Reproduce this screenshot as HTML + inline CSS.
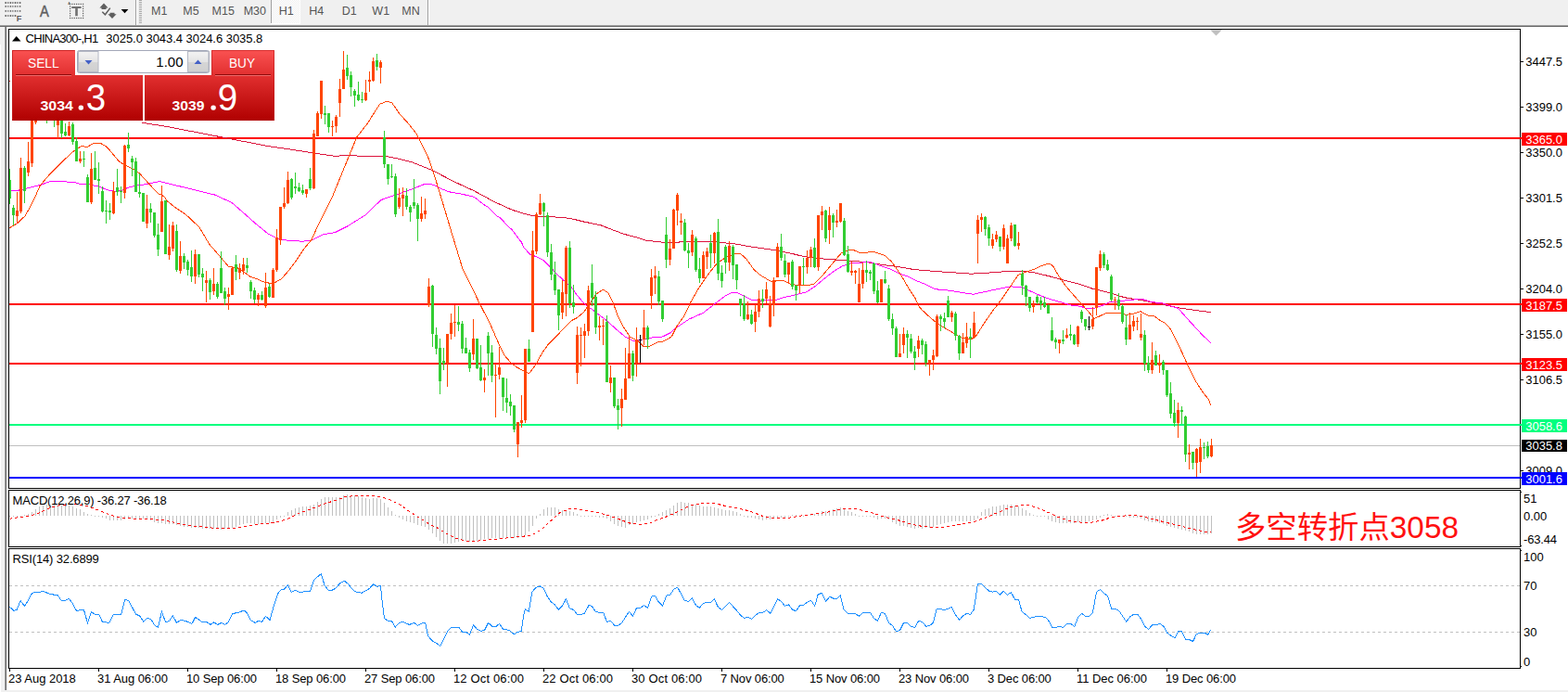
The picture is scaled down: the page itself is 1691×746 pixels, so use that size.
<!DOCTYPE html>
<html><head><meta charset="utf-8"><title>CHINA300-,H1</title>
<style>
html,body{margin:0;padding:0;background:#fff;}
body{width:1691px;height:746px;overflow:hidden;position:relative;font-family:"Liberation Sans",sans-serif;}
#tb{position:absolute;left:0;top:0;width:1691px;height:27px;background:#f0f0f0;}
svg{position:absolute;left:0;top:0;}
text{font-family:"Liberation Sans",sans-serif;}
.t{font-size:13px;fill:#000;}
.tb{font-size:12.5px;fill:#555;}
.w{font-size:13px;fill:#fff;}
</style></head><body>
<div id="tb"></div>
<svg width="1691" height="746" viewBox="0 0 1691 746">
<defs>
<linearGradient id="rg" x1="0" y1="54" x2="0" y2="130" gradientUnits="userSpaceOnUse">
<stop offset="0" stop-color="#fa5252"/><stop offset="0.35" stop-color="#e23030"/><stop offset="1" stop-color="#b00000"/></linearGradient>
<linearGradient id="bg" x1="0" y1="55" x2="0" y2="78" gradientUnits="userSpaceOnUse">
<stop offset="0" stop-color="#f4f4f4"/><stop offset="0.5" stop-color="#e4e4e4"/><stop offset="0.5" stop-color="#d6d6d6"/><stop offset="1" stop-color="#cfcfcf"/></linearGradient>
<clipPath id="cm"><rect x="10" y="32" width="1631" height="494"/></clipPath>
<clipPath id="c2"><rect x="10" y="529" width="1629" height="60"/></clipPath>
<clipPath id="c3"><rect x="10" y="592" width="1629" height="128"/></clipPath>
</defs>
<g shape-rendering="crispEdges">
<!-- window frame -->
<rect x="0" y="27" width="1691" height="1" fill="#a0a0a0"/>
<rect x="0" y="28" width="1691" height="1" fill="#696969"/>
<rect x="0" y="29" width="5" height="717" fill="#f0f0f0"/><rect x="0" y="48" width="1" height="698" fill="#fff"/><rect x="10" y="87" width="1" height="1" fill="#ff0000"/>
<rect x="5" y="29" width="1" height="716" fill="#a0a0a0"/>
<rect x="6" y="29" width="1" height="716" fill="#696969"/>
<rect x="5" y="744" width="1686" height="2" fill="#f0f0f0"/>
<!-- chart frames -->
<rect x="9.5" y="31.5" width="1630" height="495" fill="none" stroke="#000"/>
<rect x="9.5" y="528.5" width="1630" height="61" fill="none" stroke="#000"/>
<rect x="9.5" y="591.5" width="1630" height="129" fill="none" stroke="#000"/>
<!-- shift marker -->
<path d="M1305 32h13l-6.5 6.5z" fill="#c0c0c0" shape-rendering="auto"/>
<!-- main chart -->
<g clip-path="url(#cm)">
<rect x="10" y="480" width="1629" height="1" fill="#c0c0c0"/>
<rect x="10" y="148" width="1631" height="2" fill="#ff0000"/>
<rect x="10" y="327" width="1631" height="2" fill="#ff0000"/>
<rect x="10" y="391" width="1631" height="2" fill="#ff0000"/>
<rect x="10" y="457" width="1631" height="2" fill="#00ff7f"/>
<rect x="10" y="514" width="1631" height="2" fill="#0000ff"/>
<polyline fill="none" stroke="#dc143c" stroke-width="1" points="152.8,132.2 177.9,136.1 290.0,157.7 314.9,161.3 338.2,165.0 361.5,168.3 376.4,167.4 393.0,168.6 416.3,168.6 427.9,170.7 444.5,174.9 466.1,183.5 489.4,195.7 511.0,205.6 532.6,217.3 552.5,226.4 570.0,231.7 576.3,232.9 591.2,233.6 607.9,234.5 616.2,235.7 629.5,239.0 647.7,242.7 659.4,247.3 672.7,252.3 686.0,255.7 695.9,259.0 712.5,261.0 730.0,261.5 736.6,260.2 769.9,260.7 791.5,262.8 813.1,266.5 836.3,269.8 852.9,273.1 866.2,276.4 886.2,278.9 902.8,280.1 919.4,281.4 936.0,282.8 952.6,285.6 969.3,287.7 985.9,290.6 1000.0,291.7 1006.6,292.3 1023.2,293.5 1046.5,295.1 1056.5,294.8 1073.1,293.5 1089.7,292.3 1103.0,292.3 1116.3,294.0 1132.9,298.1 1147.9,302.3 1164.5,306.4 1177.8,311.1 1180.0,311.3 1196.6,315.8 1213.2,320.8 1233.2,324.1 1253.1,328.2 1269.7,331.6 1286.3,334.1 1305.8,336.6" />
<polyline fill="none" stroke="#ff00ff" stroke-width="1" points="10.0,205.6 20.1,205.1 31.1,202.5 43.2,199.5 53.2,196.0 68.3,195.8 80.4,196.5 86.4,198.3 94.5,198.5 106.5,201.2 118.6,205.6 124.6,206.3 131.7,205.1 138.7,202.0 148.7,199.7 158.8,198.5 171.9,195.5 231.5,210.0 249.8,218.3 263.1,229.9 276.3,241.6 289.6,252.4 299.6,257.4 311.2,259.4 326.2,260.2 336.2,259.0 348.6,252.7 361.1,250.7 374.4,244.1 394.3,231.6 404.7,221.4 410.9,215.8 413.0,214.8 422.9,211.5 434.6,207.3 446.2,203.1 450.0,201.6 457.8,198.5 460.0,198.3 464.5,198.5 466.6,199.2 471.1,200.7 473.3,202.5 484.4,206.8 499.4,209.5 511.5,212.4 523.1,221.6 526.0,223.1 536.4,233.2 539.3,234.7 548.0,244.0 552.5,248.0 556.3,253.2 562.5,261.3 564.7,266.5 571.3,273.9 579.6,277.3 586.3,280.6 592.9,287.2 599.6,294.7 607.9,302.2 616.2,309.7 622.8,318.8 628.6,325.7 632.8,329.9 637.8,332.9 644.4,338.2 654.4,345.7 664.4,354.8 674.3,363.1 682.6,367.3 690.9,366.4 699.3,364.8 705.9,363.4 714.2,363.1 722.5,359.0 730.0,352.8 743.3,344.0 758.2,337.4 773.2,325.7 783.1,318.3 789.8,315.3 794.8,315.3 803.1,319.6 810.6,323.2 819.7,324.1 836.3,323.6 846.3,320.4 857.9,317.9 869.6,314.9 879.5,308.3 889.5,300.0 899.5,292.2 907.8,287.2 917.7,283.9 927.7,283.1 939.3,282.6 949.3,286.4 959.3,289.7 969.3,294.7 979.2,298.0 989.2,303.0 1000.0,307.3 1008.3,311.7 1023.2,313.1 1038.2,315.6 1049.8,317.2 1061.5,314.7 1078.1,311.1 1089.7,308.9 1101.3,309.4 1109.6,313.1 1121.3,318.4 1131.2,322.2 1142.9,325.5 1154.5,328.9 1166.1,330.5 1172.8,333.0 1180.0,332.4 1188.3,329.6 1196.6,325.8 1206.6,324.9 1218.2,323.3 1231.5,322.4 1243.1,325.8 1253.1,326.6 1263.1,329.9 1270.6,332.4 1276.4,339.0 1284.7,348.2 1296.3,360.7 1305.8,369.8" />
<polyline fill="none" stroke="#ff4500" stroke-width="1" points="10.0,245.8 14.5,243.3 18.6,240.7 27.1,232.7 33.1,222.1 38.2,211.6 43.2,200.0 53.2,188.3 68.3,173.3 78.4,163.7 88.4,157.2 94.0,158.7 100.5,154.5 108.5,154.5 113.6,157.2 118.6,162.2 128.6,174.3 133.7,177.3 143.7,182.3 150.8,187.3 161.8,199.4 170.9,209.1 174.2,210.0 177.9,212.6 180.0,216.6 190.8,225.0 199.9,230.8 214.9,244.9 225.7,263.2 236.5,275.6 246.4,287.3 256.4,288.9 263.1,293.1 269.7,298.1 278.0,301.1 286.3,304.7 294.6,305.5 302.9,301.1 309.6,293.9 319.6,280.6 327.9,268.2 336.2,258.2 342.8,243.2 349.5,229.9 358.6,211.7 384.7,148.0 396.3,133.1 404.7,119.8 409.6,112.3 417.9,109.0 422.9,111.1 431.2,123.1 439.6,132.2 449.5,144.7 453.7,153.3 461.2,168.2 467.0,184.9 472.8,203.1 477.8,219.8 482.8,236.4 487.7,253.0 491.1,264.0 499.0,290.0 508.2,308.3 516.5,325.7 528.1,348.2 539.7,374.7 544.7,383.9 551.4,391.4 558.0,396.3 564.7,399.7 570.5,402.7 577.9,393.0 584.6,380.6 591.2,371.4 599.6,363.1 607.9,354.0 616.2,345.7 622.8,342.3 629.5,336.5 636.1,327.4 642.8,317.4 650.2,311.9 656.0,315.8 661.0,325.7 666.0,339.9 672.7,353.1 679.3,363.1 687.6,367.3 694.3,373.9 700.9,373.1 709.2,368.9 715.9,367.8 724.2,363.1 730.0,351.5 738.3,339.9 744.9,325.7 753.2,311.3 763.2,296.4 773.2,283.9 783.1,277.3 791.5,273.9 798.1,273.1 804.7,278.9 813.1,290.6 819.7,296.4 828.0,301.4 833.0,303.9 839.6,302.2 846.3,303.0 852.9,306.3 861.2,307.7 869.6,307.7 877.9,306.3 886.2,298.0 894.5,288.1 902.8,278.1 907.8,272.3 916.1,269.5 921.1,269.8 927.7,272.6 934.4,272.3 941.0,271.1 947.7,273.1 954.3,275.6 960.9,281.4 965.9,288.1 972.6,298.0 979.2,309.7 987.5,322.4 990.0,328.9 994.2,334.0 1000.0,339.5 1009.9,348.0 1018.2,353.2 1028.2,359.0 1038.2,364.9 1048.2,365.2 1053.1,361.5 1061.5,348.2 1071.4,334.1 1079.7,323.3 1098.0,296.5 1106.3,293.1 1114.6,290.6 1121.3,287.3 1131.2,284.0 1135.4,286.5 1141.2,296.5 1147.9,306.4 1156.2,316.4 1166.1,327.5 1174.4,336.6 1180.0,343.5 1193.3,337.4 1208.2,337.4 1214.9,339.5 1223.2,337.9 1229.9,335.7 1238.2,340.2 1244.8,340.7 1251.5,345.7 1256.4,348.2 1261.4,353.2 1266.4,363.1 1273.1,376.4 1278.0,387.2 1283.0,398.0 1289.7,411.3 1298.0,424.0 1303.0,429.9 1305.8,436.6" />
<path fill="#32cd32" d="M10 182h1v38h-1zM9 194h3v20h-3z"/>
<path fill="#32cd32" d="M14 221h1v22h-1zM13 224h3v8h-3z"/>
<path fill="#ff4500" d="M18 207h1v33h-1zM17 227h3v6h-3z"/>
<path fill="#ff4500" d="M22 170h1v60h-1zM21 181h3v47h-3z"/>
<path fill="#32cd32" d="M26 179h1v40h-1zM25 181h3v25h-3z"/>
<path fill="#ff4500" d="M30 153h1v37h-1zM29 174h3v12h-3z"/>
<path fill="#ff4500" d="M34 55h1v125h-1zM33 60h3v116h-3z"/>
<path fill="#ff4500" d="M38 65h1v69h-1zM37 70h3v62h-3z"/>
<path fill="#ff4500" d="M42 60h1v60h-1zM41 65h3v50h-3z"/>
<path fill="#32cd32" d="M46 55h1v65h-1zM45 65h3v40h-3z"/>
<path fill="#32cd32" d="M50 75h1v58h-1zM49 85h3v30h-3z"/>
<path fill="#32cd32" d="M54 75h1v50h-1zM53 95h3v20h-3z"/>
<path fill="#32cd32" d="M58 85h1v52h-1zM57 95h3v20h-3z"/>
<path fill="#ff4500" d="M62 95h1v55h-1zM61 115h3v20h-3z"/>
<path fill="#32cd32" d="M66 105h1v44h-1zM65 115h3v29h-3z"/>
<path fill="#32cd32" d="M70 133h1v14h-1zM69 142h3v4h-3z"/>
<path fill="#ff4500" d="M74 131h1v16h-1zM73 136h3v10h-3z"/>
<path fill="#32cd32" d="M78 132h1v24h-1zM77 134h3v19h-3z"/>
<path fill="#32cd32" d="M82 148h1v26h-1zM81 152h3v22h-3z"/>
<path fill="#ff4500" d="M86 163h1v13h-1zM85 171h3v3h-3z"/>
<path fill="#32cd32" d="M90 163h1v17h-1zM89 171h3v1h-3z"/>
<path fill="#32cd32" d="M94 188h1v30h-1zM93 191h3v27h-3z"/>
<path fill="#ff4500" d="M98 165h1v55h-1zM97 182h3v36h-3z"/>
<path fill="#32cd32" d="M102 163h1v31h-1zM101 181h3v13h-3z"/>
<path fill="#32cd32" d="M106 175h1v34h-1zM105 193h3v2h-3z"/>
<path fill="#32cd32" d="M110 201h1v28h-1zM109 206h3v22h-3z"/>
<path fill="#32cd32" d="M114 216h1v25h-1zM113 227h3v1h-3z"/>
<path fill="#32cd32" d="M118 219h1v18h-1zM117 227h3v2h-3z"/>
<path fill="#ff4500" d="M122 196h1v35h-1zM121 206h3v24h-3z"/>
<path fill="#32cd32" d="M126 182h1v29h-1zM125 202h3v5h-3z"/>
<path fill="#32cd32" d="M130 201h1v18h-1zM129 206h3v1h-3z"/>
<path fill="#ff4500" d="M134 156h1v58h-1zM133 157h3v51h-3z"/>
<path fill="#32cd32" d="M138 143h1v21h-1zM137 156h3v4h-3z"/>
<path fill="#32cd32" d="M142 168h1v22h-1zM141 171h3v4h-3z"/>
<path fill="#32cd32" d="M146 170h1v37h-1zM145 174h3v33h-3z"/>
<path fill="#32cd32" d="M150 187h1v26h-1zM149 207h3v2h-3z"/>
<path fill="#32cd32" d="M154 208h1v31h-1zM153 208h3v31h-3z"/>
<path fill="#ff4500" d="M158 210h1v36h-1zM157 225h3v16h-3z"/>
<path fill="#32cd32" d="M162 219h1v21h-1zM161 225h3v4h-3z"/>
<path fill="#32cd32" d="M166 229h1v27h-1zM165 229h3v25h-3z"/>
<path fill="#32cd32" d="M170 241h1v35h-1zM169 253h3v16h-3z"/>
<path fill="#ff4500" d="M174 200h1v50h-1zM173 217h3v33h-3z"/>
<path fill="#32cd32" d="M178 216h1v58h-1zM177 216h3v58h-3z"/>
<path fill="#ff4500" d="M182 242h1v38h-1zM181 266h3v9h-3z"/>
<path fill="#ff4500" d="M186 239h1v32h-1zM185 243h3v25h-3z"/>
<path fill="#32cd32" d="M190 242h1v51h-1zM189 249h3v42h-3z"/>
<path fill="#ff4500" d="M194 260h1v35h-1zM193 276h3v16h-3z"/>
<path fill="#32cd32" d="M198 273h1v17h-1zM197 276h3v7h-3z"/>
<path fill="#32cd32" d="M202 280h1v17h-1zM201 282h3v9h-3z"/>
<path fill="#32cd32" d="M206 270h1v34h-1zM205 288h3v10h-3z"/>
<path fill="#ff4500" d="M210 269h1v37h-1zM209 274h3v24h-3z"/>
<path fill="#32cd32" d="M214 274h1v25h-1zM213 274h3v22h-3z"/>
<path fill="#32cd32" d="M218 289h1v25h-1zM217 295h3v4h-3z"/>
<path fill="#ff4500" d="M222 292h1v34h-1zM221 302h3v3h-3z"/>
<path fill="#32cd32" d="M226 300h1v23h-1zM225 302h3v13h-3z"/>
<path fill="#ff4500" d="M230 289h1v29h-1zM229 306h3v8h-3z"/>
<path fill="#32cd32" d="M234 304h1v18h-1zM233 306h3v14h-3z"/>
<path fill="#32cd32" d="M238 271h1v45h-1zM237 289h3v27h-3z"/>
<path fill="#32cd32" d="M242 310h1v19h-1zM241 314h3v8h-3z"/>
<path fill="#ff4500" d="M246 310h1v24h-1zM245 317h3v3h-3z"/>
<path fill="#ff4500" d="M250 287h1v31h-1zM249 289h3v29h-3z"/>
<path fill="#32cd32" d="M254 275h1v27h-1zM253 285h3v8h-3z"/>
<path fill="#ff4500" d="M258 284h1v17h-1zM257 289h3v5h-3z"/>
<path fill="#ff4500" d="M262 278h1v18h-1zM261 285h3v7h-3z"/>
<path fill="#32cd32" d="M266 278h1v16h-1zM265 286h3v3h-3z"/>
<path fill="#32cd32" d="M270 302h1v20h-1zM269 304h3v10h-3z"/>
<path fill="#32cd32" d="M274 310h1v17h-1zM273 313h3v10h-3z"/>
<path fill="#ff4500" d="M278 316h1v14h-1zM277 318h3v5h-3z"/>
<path fill="#32cd32" d="M282 314h1v10h-1zM281 318h3v5h-3z"/>
<path fill="#ff4500" d="M286 294h1v38h-1zM285 310h3v20h-3z"/>
<path fill="#32cd32" d="M290 306h1v15h-1zM289 309h3v11h-3z"/>
<path fill="#ff4500" d="M294 289h1v32h-1zM293 291h3v30h-3z"/>
<path fill="#ff4500" d="M298 247h1v46h-1zM297 256h3v35h-3z"/>
<path fill="#ff4500" d="M302 223h1v41h-1zM301 223h3v36h-3z"/>
<path fill="#ff4500" d="M306 202h1v23h-1zM305 219h3v4h-3z"/>
<path fill="#ff4500" d="M310 185h1v35h-1zM309 194h3v25h-3z"/>
<path fill="#32cd32" d="M314 192h1v23h-1zM313 193h3v20h-3z"/>
<path fill="#32cd32" d="M318 186h1v23h-1zM317 201h3v2h-3z"/>
<path fill="#32cd32" d="M322 197h1v10h-1zM321 202h3v4h-3z"/>
<path fill="#32cd32" d="M326 199h1v11h-1zM325 205h3v3h-3z"/>
<path fill="#ff4500" d="M330 204h1v9h-1zM329 204h3v5h-3z"/>
<path fill="#32cd32" d="M334 181h1v24h-1zM333 193h3v10h-3z"/>
<path fill="#ff4500" d="M338 140h1v64h-1zM337 144h3v59h-3z"/>
<path fill="#ff4500" d="M342 120h1v27h-1zM341 122h3v25h-3z"/>
<path fill="#ff4500" d="M346 87h1v41h-1zM345 87h3v36h-3z"/>
<path fill="#32cd32" d="M350 114h1v20h-1zM349 122h3v2h-3z"/>
<path fill="#32cd32" d="M354 122h1v21h-1zM353 122h3v15h-3z"/>
<path fill="#ff4500" d="M358 130h1v17h-1zM357 136h3v1h-3z"/>
<path fill="#ff4500" d="M362 124h1v19h-1zM361 126h3v10h-3z"/>
<path fill="#ff4500" d="M366 85h1v41h-1zM365 96h3v15h-3z"/>
<path fill="#ff4500" d="M370 55h1v41h-1zM369 75h3v21h-3z"/>
<path fill="#32cd32" d="M374 59h1v27h-1zM373 73h3v9h-3z"/>
<path fill="#32cd32" d="M378 77h1v27h-1zM377 81h3v13h-3z"/>
<path fill="#32cd32" d="M382 96h1v19h-1zM381 98h3v5h-3z"/>
<path fill="#32cd32" d="M386 88h1v21h-1zM385 102h3v6h-3z"/>
<path fill="#32cd32" d="M390 99h1v12h-1zM389 107h3v1h-3z"/>
<path fill="#ff4500" d="M394 86h1v23h-1zM393 100h3v8h-3z"/>
<path fill="#ff4500" d="M398 77h1v22h-1zM397 86h3v2h-3z"/>
<path fill="#ff4500" d="M402 62h1v26h-1zM401 66h3v21h-3z"/>
<path fill="#32cd32" d="M406 58h1v18h-1zM405 65h3v7h-3z"/>
<path fill="#ff4500" d="M410 65h1v25h-1zM409 67h3v6h-3z"/>
<path fill="#32cd32" d="M414 141h1v40h-1zM413 148h3v29h-3z"/>
<path fill="#32cd32" d="M418 177h1v22h-1zM417 177h3v16h-3z"/>
<path fill="#32cd32" d="M422 177h1v15h-1zM421 190h3v1h-3z"/>
<path fill="#32cd32" d="M426 187h1v47h-1zM425 190h3v41h-3z"/>
<path fill="#ff4500" d="M430 203h1v22h-1zM429 213h3v10h-3z"/>
<path fill="#ff4500" d="M434 202h1v31h-1zM433 210h3v4h-3z"/>
<path fill="#32cd32" d="M438 203h1v23h-1zM437 211h3v12h-3z"/>
<path fill="#32cd32" d="M442 221h1v18h-1zM441 223h3v6h-3z"/>
<path fill="#32cd32" d="M446 193h1v32h-1zM445 218h3v4h-3z"/>
<path fill="#32cd32" d="M450 219h1v41h-1zM449 221h3v15h-3z"/>
<path fill="#ff4500" d="M454 212h1v27h-1zM453 230h3v6h-3z"/>
<path fill="#ff4500" d="M458 214h1v22h-1zM457 227h3v4h-3z"/>
<path fill="#ff4500" d="M462 300h1v31h-1zM461 309h3v20h-3z"/>
<path fill="#32cd32" d="M466 307h1v67h-1zM465 308h3v52h-3z"/>
<path fill="#32cd32" d="M470 353h1v29h-1zM469 361h3v15h-3z"/>
<path fill="#32cd32" d="M474 365h1v60h-1zM473 375h3v36h-3z"/>
<path fill="#32cd32" d="M478 375h1v24h-1zM477 389h3v3h-3z"/>
<path fill="#ff4500" d="M482 360h1v57h-1zM481 360h3v31h-3z"/>
<path fill="#ff4500" d="M486 338h1v28h-1zM485 348h3v12h-3z"/>
<path fill="#ff4500" d="M490 329h1v34h-1zM489 347h3v1h-3z"/>
<path fill="#32cd32" d="M494 330h1v27h-1zM493 347h3v3h-3z"/>
<path fill="#32cd32" d="M498 346h1v35h-1zM497 349h3v27h-3z"/>
<path fill="#32cd32" d="M502 364h1v17h-1zM501 375h3v6h-3z"/>
<path fill="#32cd32" d="M506 377h1v24h-1zM505 380h3v17h-3z"/>
<path fill="#ff4500" d="M510 344h1v44h-1zM509 365h3v17h-3z"/>
<path fill="#32cd32" d="M514 365h1v33h-1zM513 365h3v32h-3z"/>
<path fill="#32cd32" d="M518 372h1v39h-1zM517 396h3v14h-3z"/>
<path fill="#ff4500" d="M522 398h1v25h-1zM521 407h3v3h-3z"/>
<path fill="#32cd32" d="M526 358h1v47h-1zM525 362h3v19h-3z"/>
<path fill="#32cd32" d="M530 372h1v40h-1zM529 380h3v25h-3z"/>
<path fill="#ff4500" d="M534 392h1v58h-1zM533 404h3v1h-3z"/>
<path fill="#ff4500" d="M538 374h1v35h-1zM537 396h3v8h-3z"/>
<path fill="#32cd32" d="M542 407h1v36h-1zM541 407h3v21h-3z"/>
<path fill="#32cd32" d="M546 408h1v37h-1zM545 429h3v5h-3z"/>
<path fill="#32cd32" d="M550 425h1v23h-1zM549 433h3v5h-3z"/>
<path fill="#32cd32" d="M554 437h1v29h-1zM553 437h3v26h-3z"/>
<path fill="#ff4500" d="M558 455h1v38h-1zM557 455h3v24h-3z"/>
<path fill="#ff4500" d="M562 426h1v35h-1zM561 453h3v3h-3z"/>
<path fill="#ff4500" d="M566 376h1v80h-1zM565 376h3v77h-3z"/>
<path fill="#32cd32" d="M570 366h1v24h-1zM569 376h3v14h-3z"/>
<path fill="#ff4500" d="M574 249h1v109h-1zM573 270h3v88h-3z"/>
<path fill="#ff4500" d="M578 229h1v45h-1zM577 231h3v40h-3z"/>
<path fill="#ff4500" d="M582 209h1v23h-1zM581 219h3v12h-3z"/>
<path fill="#32cd32" d="M586 218h1v26h-1zM585 219h3v9h-3z"/>
<path fill="#32cd32" d="M590 229h1v48h-1zM589 232h3v40h-3z"/>
<path fill="#32cd32" d="M594 263h1v39h-1zM593 272h3v24h-3z"/>
<path fill="#32cd32" d="M598 282h1v36h-1zM597 296h3v17h-3z"/>
<path fill="#32cd32" d="M602 312h1v44h-1zM601 312h3v28h-3z"/>
<path fill="#ff4500" d="M606 302h1v42h-1zM605 315h3v22h-3z"/>
<path fill="#ff4500" d="M610 265h1v76h-1zM609 267h3v50h-3z"/>
<path fill="#32cd32" d="M614 260h1v72h-1zM613 267h3v60h-3z"/>
<path fill="#32cd32" d="M618 307h1v31h-1zM617 326h3v5h-3z"/>
<path fill="#ff4500" d="M622 352h1v62h-1zM621 361h3v41h-3z"/>
<path fill="#ff4500" d="M626 353h1v42h-1zM625 361h3v1h-3z"/>
<path fill="#ff4500" d="M630 349h1v37h-1zM629 357h3v5h-3z"/>
<path fill="#ff4500" d="M634 308h1v54h-1zM633 313h3v44h-3z"/>
<path fill="#32cd32" d="M638 285h1v45h-1zM637 305h3v16h-3z"/>
<path fill="#32cd32" d="M642 314h1v46h-1zM641 320h3v33h-3z"/>
<path fill="#ff4500" d="M646 341h1v26h-1zM645 351h3v2h-3z"/>
<path fill="#ff4500" d="M650 344h1v28h-1zM649 351h3v1h-3z"/>
<path fill="#32cd32" d="M654 340h1v72h-1zM653 347h3v65h-3z"/>
<path fill="#ff4500" d="M658 394h1v29h-1zM657 407h3v6h-3z"/>
<path fill="#32cd32" d="M662 407h1v33h-1zM661 407h3v31h-3z"/>
<path fill="#32cd32" d="M666 430h1v33h-1zM665 437h3v5h-3z"/>
<path fill="#ff4500" d="M670 419h1v41h-1zM669 430h3v10h-3z"/>
<path fill="#ff4500" d="M674 375h1v56h-1zM673 408h3v23h-3z"/>
<path fill="#ff4500" d="M678 362h1v46h-1zM677 381h3v27h-3z"/>
<path fill="#32cd32" d="M682 378h1v33h-1zM681 381h3v24h-3z"/>
<path fill="#ff4500" d="M686 353h1v53h-1zM685 366h3v25h-3z"/>
<path fill="#000" d="M690 361h1v30h-1zM689 366h3v1h-3z"/>
<path fill="#ff4500" d="M694 334h1v38h-1zM693 353h3v13h-3z"/>
<path fill="#32cd32" d="M698 351h1v25h-1zM697 353h3v13h-3z"/>
<path fill="#ff4500" d="M702 290h1v43h-1zM701 299h3v20h-3z"/>
<path fill="#ff4500" d="M706 287h1v30h-1zM705 297h3v3h-3z"/>
<path fill="#32cd32" d="M710 292h1v37h-1zM709 298h3v27h-3z"/>
<path fill="#32cd32" d="M714 324h1v23h-1zM713 324h3v20h-3z"/>
<path fill="#32cd32" d="M718 234h1v55h-1zM717 253h3v27h-3z"/>
<path fill="#ff4500" d="M722 258h1v28h-1zM721 268h3v12h-3z"/>
<path fill="#ff4500" d="M726 225h1v43h-1zM725 226h3v42h-3z"/>
<path fill="#ff4500" d="M730 208h1v35h-1zM729 210h3v17h-3z"/>
<path fill="#ff4500" d="M734 230h1v23h-1zM733 238h3v2h-3z"/>
<path fill="#32cd32" d="M738 236h1v35h-1zM737 240h3v30h-3z"/>
<path fill="#32cd32" d="M742 262h1v27h-1zM741 270h3v3h-3z"/>
<path fill="#ff4500" d="M746 248h1v28h-1zM745 253h3v19h-3z"/>
<path fill="#32cd32" d="M750 255h1v38h-1zM749 257h3v34h-3z"/>
<path fill="#32cd32" d="M754 278h1v27h-1zM753 290h3v10h-3z"/>
<path fill="#ff4500" d="M758 271h1v29h-1zM757 275h3v25h-3z"/>
<path fill="#ff4500" d="M762 267h1v23h-1zM761 271h3v6h-3z"/>
<path fill="#32cd32" d="M766 253h1v36h-1zM765 262h3v11h-3z"/>
<path fill="#ff4500" d="M770 250h1v34h-1zM769 251h3v22h-3z"/>
<path fill="#32cd32" d="M774 236h1v66h-1zM773 250h3v45h-3z"/>
<path fill="#32cd32" d="M778 286h1v24h-1zM777 294h3v9h-3z"/>
<path fill="#32cd32" d="M782 264h1v31h-1zM781 266h3v17h-3z"/>
<path fill="#ff4500" d="M786 260h1v32h-1zM785 265h3v18h-3z"/>
<path fill="#32cd32" d="M790 264h1v37h-1zM789 266h3v20h-3z"/>
<path fill="#32cd32" d="M794 285h1v27h-1zM793 285h3v17h-3z"/>
<path fill="#32cd32" d="M798 322h1v19h-1zM797 322h3v7h-3z"/>
<path fill="#32cd32" d="M802 318h1v28h-1zM801 327h3v17h-3z"/>
<path fill="#ff4500" d="M806 325h1v20h-1zM805 339h3v5h-3z"/>
<path fill="#32cd32" d="M810 334h1v16h-1zM809 339h3v10h-3z"/>
<path fill="#ff4500" d="M814 328h1v30h-1zM813 336h3v11h-3z"/>
<path fill="#ff4500" d="M818 313h1v29h-1zM817 322h3v14h-3z"/>
<path fill="#32cd32" d="M822 312h1v20h-1zM821 322h3v3h-3z"/>
<path fill="#ff4500" d="M826 304h1v23h-1zM825 312h3v10h-3z"/>
<path fill="#ff4500" d="M830 319h1v34h-1zM829 327h3v25h-3z"/>
<path fill="#ff4500" d="M834 299h1v42h-1zM833 302h3v27h-3z"/>
<path fill="#ff4500" d="M838 262h1v37h-1zM837 266h3v33h-3z"/>
<path fill="#32cd32" d="M842 252h1v29h-1zM841 266h3v12h-3z"/>
<path fill="#32cd32" d="M846 274h1v25h-1zM845 281h3v15h-3z"/>
<path fill="#ff4500" d="M850 283h1v22h-1zM849 283h3v13h-3z"/>
<path fill="#32cd32" d="M854 280h1v32h-1zM853 282h3v27h-3z"/>
<path fill="#32cd32" d="M858 307h1v17h-1zM857 308h3v5h-3z"/>
<path fill="#ff4500" d="M862 287h1v29h-1zM861 287h3v21h-3z"/>
<path fill="#32cd32" d="M866 278h1v29h-1zM865 287h3v1h-3z"/>
<path fill="#ff4500" d="M870 270h1v25h-1zM869 278h3v10h-3z"/>
<path fill="#ff4500" d="M874 266h1v22h-1zM873 269h3v9h-3z"/>
<path fill="#32cd32" d="M878 257h1v32h-1zM877 267h3v21h-3z"/>
<path fill="#ff4500" d="M882 232h1v60h-1zM881 232h3v56h-3z"/>
<path fill="#ff4500" d="M886 222h1v26h-1zM885 228h3v4h-3z"/>
<path fill="#32cd32" d="M890 226h1v35h-1zM889 227h3v30h-3z"/>
<path fill="#ff4500" d="M894 223h1v40h-1zM893 232h3v16h-3z"/>
<path fill="#32cd32" d="M898 230h1v26h-1zM897 232h3v8h-3z"/>
<path fill="#ff4500" d="M902 226h1v19h-1zM901 238h3v2h-3z"/>
<path fill="#ff4500" d="M906 219h1v21h-1zM905 219h3v20h-3z"/>
<path fill="#32cd32" d="M910 235h1v41h-1zM909 238h3v37h-3z"/>
<path fill="#32cd32" d="M914 265h1v29h-1zM913 274h3v19h-3z"/>
<path fill="#ff4500" d="M918 282h1v15h-1zM917 292h3v2h-3z"/>
<path fill="#ff4500" d="M922 291h1v15h-1zM921 292h3v2h-3z"/>
<path fill="#ff4500" d="M926 289h1v37h-1zM925 306h3v20h-3z"/>
<path fill="#ff4500" d="M930 283h1v28h-1zM929 291h3v15h-3z"/>
<path fill="#32cd32" d="M934 281h1v23h-1zM933 291h3v3h-3z"/>
<path fill="#32cd32" d="M938 291h1v11h-1zM937 293h3v2h-3z"/>
<path fill="#32cd32" d="M942 283h1v34h-1zM941 284h3v30h-3z"/>
<path fill="#32cd32" d="M946 303h1v24h-1zM945 313h3v13h-3z"/>
<path fill="#ff4500" d="M950 301h1v25h-1zM949 301h3v25h-3z"/>
<path fill="#32cd32" d="M954 292h1v14h-1zM953 301h3v4h-3z"/>
<path fill="#32cd32" d="M958 307h1v39h-1zM957 311h3v33h-3z"/>
<path fill="#32cd32" d="M962 338h1v23h-1zM961 344h3v10h-3z"/>
<path fill="#32cd32" d="M966 352h1v33h-1zM965 354h3v31h-3z"/>
<path fill="#ff4500" d="M970 360h1v25h-1zM969 381h3v4h-3z"/>
<path fill="#ff4500" d="M974 353h1v28h-1zM973 360h3v12h-3z"/>
<path fill="#32cd32" d="M978 356h1v30h-1zM977 360h3v4h-3z"/>
<path fill="#32cd32" d="M982 360h1v21h-1zM981 365h3v14h-3z"/>
<path fill="#32cd32" d="M986 373h1v26h-1zM985 379h3v7h-3z"/>
<path fill="#ff4500" d="M990 362h1v23h-1zM989 367h3v9h-3z"/>
<path fill="#32cd32" d="M994 365h1v17h-1zM993 367h3v5h-3z"/>
<path fill="#32cd32" d="M998 368h1v27h-1zM997 371h3v20h-3z"/>
<path fill="#ff4500" d="M1002 388h1v17h-1zM1001 388h3v4h-3z"/>
<path fill="#ff4500" d="M1006 377h1v22h-1zM1005 383h3v5h-3z"/>
<path fill="#ff4500" d="M1010 339h1v46h-1zM1009 341h3v43h-3z"/>
<path fill="#32cd32" d="M1014 339h1v18h-1zM1013 341h3v3h-3z"/>
<path fill="#32cd32" d="M1018 337h1v17h-1zM1017 343h3v4h-3z"/>
<path fill="#32cd32" d="M1022 319h1v23h-1zM1021 324h3v18h-3z"/>
<path fill="#ff4500" d="M1026 335h1v12h-1zM1025 337h3v5h-3z"/>
<path fill="#32cd32" d="M1030 336h1v31h-1zM1029 338h3v24h-3z"/>
<path fill="#32cd32" d="M1034 361h1v27h-1zM1033 362h3v19h-3z"/>
<path fill="#ff4500" d="M1038 359h1v22h-1zM1037 369h3v12h-3z"/>
<path fill="#ff4500" d="M1042 348h1v27h-1zM1041 363h3v7h-3z"/>
<path fill="#32cd32" d="M1046 354h1v32h-1zM1045 363h3v2h-3z"/>
<path fill="#ff4500" d="M1050 336h1v29h-1zM1049 348h3v16h-3z"/>
<path fill="#ff4500" d="M1054 232h1v52h-1zM1053 237h3v15h-3z"/>
<path fill="#ff4500" d="M1058 230h1v20h-1zM1057 234h3v3h-3z"/>
<path fill="#32cd32" d="M1062 233h1v21h-1zM1061 234h3v13h-3z"/>
<path fill="#32cd32" d="M1066 242h1v23h-1zM1065 245h3v12h-3z"/>
<path fill="#ff4500" d="M1070 252h1v16h-1zM1069 258h3v7h-3z"/>
<path fill="#ff4500" d="M1074 249h1v12h-1zM1073 253h3v5h-3z"/>
<path fill="#32cd32" d="M1078 255h1v16h-1zM1077 255h3v11h-3z"/>
<path fill="#ff4500" d="M1082 242h1v27h-1zM1081 246h3v20h-3z"/>
<path fill="#ff4500" d="M1086 253h1v31h-1zM1085 257h3v27h-3z"/>
<path fill="#ff4500" d="M1090 240h1v20h-1zM1089 243h3v14h-3z"/>
<path fill="#32cd32" d="M1094 242h1v24h-1zM1093 242h3v23h-3z"/>
<path fill="#ff4500" d="M1098 250h1v19h-1zM1097 262h3v3h-3z"/>
<path fill="#32cd32" d="M1102 291h1v27h-1zM1101 295h3v13h-3z"/>
<path fill="#32cd32" d="M1106 307h1v23h-1zM1105 308h3v12h-3z"/>
<path fill="#32cd32" d="M1110 320h1v16h-1zM1109 320h3v12h-3z"/>
<path fill="#ff4500" d="M1114 324h1v13h-1zM1113 328h3v3h-3z"/>
<path fill="#32cd32" d="M1118 318h1v10h-1zM1117 320h3v6h-3z"/>
<path fill="#32cd32" d="M1122 320h1v14h-1zM1121 324h3v4h-3z"/>
<path fill="#32cd32" d="M1126 320h1v12h-1zM1125 326h3v5h-3z"/>
<path fill="#32cd32" d="M1130 328h1v10h-1zM1129 329h3v9h-3z"/>
<path fill="#32cd32" d="M1134 342h1v26h-1zM1133 356h3v11h-3z"/>
<path fill="#32cd32" d="M1138 364h1v12h-1zM1137 366h3v3h-3z"/>
<path fill="#ff4500" d="M1142 366h1v15h-1zM1141 366h3v4h-3z"/>
<path fill="#32cd32" d="M1146 356h1v15h-1zM1145 366h3v2h-3z"/>
<path fill="#ff4500" d="M1150 354h1v11h-1zM1149 361h3v3h-3z"/>
<path fill="#32cd32" d="M1154 350h1v17h-1zM1153 360h3v2h-3z"/>
<path fill="#32cd32" d="M1158 360h1v12h-1zM1157 361h3v10h-3z"/>
<path fill="#ff4500" d="M1162 351h1v23h-1zM1161 352h3v19h-3z"/>
<path fill="#32cd32" d="M1166 334h1v14h-1zM1165 336h3v8h-3z"/>
<path fill="#32cd32" d="M1170 344h1v12h-1zM1169 344h3v8h-3z"/>
<path fill="#000" d="M1174 341h1v15h-1zM1173 352h3v1h-3z"/>
<path fill="#ff4500" d="M1178 331h1v24h-1zM1177 344h3v8h-3z"/>
<path fill="#ff4500" d="M1182 288h1v52h-1zM1181 288h3v44h-3z"/>
<path fill="#ff4500" d="M1186 270h1v22h-1zM1185 274h3v15h-3z"/>
<path fill="#32cd32" d="M1190 272h1v17h-1zM1189 274h3v12h-3z"/>
<path fill="#32cd32" d="M1194 280h1v12h-1zM1193 285h3v6h-3z"/>
<path fill="#32cd32" d="M1198 296h1v29h-1zM1197 298h3v25h-3z"/>
<path fill="#ff4500" d="M1202 320h1v14h-1zM1201 323h3v1h-3z"/>
<path fill="#32cd32" d="M1206 316h1v18h-1zM1205 323h3v7h-3z"/>
<path fill="#32cd32" d="M1210 328h1v21h-1zM1209 330h3v17h-3z"/>
<path fill="#32cd32" d="M1214 339h1v33h-1zM1213 353h3v13h-3z"/>
<path fill="#ff4500" d="M1218 337h1v29h-1zM1217 350h3v16h-3z"/>
<path fill="#ff4500" d="M1222 340h1v17h-1zM1221 346h3v6h-3z"/>
<path fill="#ff4500" d="M1226 342h1v14h-1zM1225 346h3v1h-3z"/>
<path fill="#ff4500" d="M1230 338h1v29h-1zM1229 360h3v4h-3z"/>
<path fill="#32cd32" d="M1234 356h1v44h-1zM1233 361h3v31h-3z"/>
<path fill="#32cd32" d="M1238 384h1v18h-1zM1237 391h3v8h-3z"/>
<path fill="#ff4500" d="M1242 369h1v34h-1zM1241 388h3v11h-3z"/>
<path fill="#32cd32" d="M1246 378h1v16h-1zM1245 383h3v11h-3z"/>
<path fill="#ff4500" d="M1250 382h1v20h-1zM1249 391h3v3h-3z"/>
<path fill="#32cd32" d="M1254 388h1v16h-1zM1253 390h3v9h-3z"/>
<path fill="#32cd32" d="M1258 399h1v29h-1zM1257 399h3v27h-3z"/>
<path fill="#32cd32" d="M1262 412h1v39h-1zM1261 424h3v22h-3z"/>
<path fill="#32cd32" d="M1266 431h1v29h-1zM1265 445h3v11h-3z"/>
<path fill="#ff4500" d="M1270 434h1v38h-1zM1269 442h3v14h-3z"/>
<path fill="#32cd32" d="M1274 438h1v19h-1zM1273 442h3v2h-3z"/>
<path fill="#32cd32" d="M1278 448h1v50h-1zM1277 449h3v41h-3z"/>
<path fill="#ff4500" d="M1282 479h1v27h-1zM1281 488h3v2h-3z"/>
<path fill="#32cd32" d="M1286 487h1v19h-1zM1285 487h3v12h-3z"/>
<path fill="#ff4500" d="M1290 483h1v31h-1zM1289 484h3v15h-3z"/>
<path fill="#ff4500" d="M1294 473h1v37h-1zM1293 482h3v16h-3z"/>
<path fill="#32cd32" d="M1298 477h1v18h-1zM1297 482h3v1h-3z"/>
<path fill="#32cd32" d="M1302 476h1v18h-1zM1301 481h3v11h-3z"/>
<path fill="#ff4500" d="M1306 473h1v20h-1zM1305 480h3v12h-3z"/>
</g>
<!-- MACD -->
<g clip-path="url(#c2)">
<path fill="#c0c0c0" d="M10 556h1v1h-1zM14 556h1v1h-1zM18 556h1v1h-1zM22 556h1v1h-1zM26 555h1v1h-1zM30 554h1v2h-1zM34 552h1v4h-1zM38 549h1v7h-1zM42 546h1v10h-1zM46 545h1v11h-1zM50 544h1v12h-1zM54 544h1v12h-1zM58 544h1v12h-1zM62 545h1v11h-1zM66 545h1v11h-1zM70 545h1v11h-1zM74 545h1v11h-1zM78 546h1v10h-1zM82 548h1v8h-1zM86 549h1v7h-1zM90 552h1v4h-1zM94 554h1v2h-1zM98 555h1v1h-1zM102 556h1v1h-1zM106 556h1v1h-1zM110 556h1v2h-1zM114 556h1v3h-1zM118 556h1v5h-1zM122 556h1v5h-1zM126 556h1v5h-1zM130 556h1v5h-1zM134 556h1v4h-1zM138 556h1v3h-1zM142 556h1v3h-1zM146 556h1v3h-1zM150 556h1v3h-1zM154 556h1v3h-1zM158 556h1v4h-1zM162 556h1v5h-1zM166 556h1v7h-1zM170 556h1v8h-1zM174 556h1v8h-1zM178 556h1v9h-1zM182 556h1v9h-1zM186 556h1v9h-1zM190 556h1v10h-1zM194 556h1v11h-1zM198 556h1v12h-1zM202 556h1v12h-1zM206 556h1v13h-1zM210 556h1v13h-1zM214 556h1v13h-1zM218 556h1v14h-1zM222 556h1v14h-1zM226 556h1v14h-1zM230 556h1v14h-1zM234 556h1v14h-1zM238 556h1v15h-1zM242 556h1v14h-1zM246 556h1v13h-1zM250 556h1v13h-1zM254 556h1v12h-1zM258 556h1v10h-1zM262 556h1v9h-1zM266 556h1v8h-1zM270 556h1v8h-1zM274 556h1v9h-1zM278 556h1v9h-1zM282 556h1v8h-1zM286 556h1v8h-1zM290 556h1v8h-1zM294 556h1v7h-1zM298 556h1v4h-1zM302 556h1v2h-1zM306 556h1v1h-1zM310 552h1v4h-1zM314 550h1v6h-1zM318 548h1v8h-1zM322 547h1v9h-1zM326 546h1v10h-1zM330 546h1v10h-1zM334 545h1v11h-1zM338 544h1v12h-1zM342 541h1v15h-1zM346 538h1v18h-1zM350 536h1v20h-1zM354 536h1v20h-1zM358 536h1v20h-1zM362 536h1v20h-1zM366 536h1v20h-1zM370 534h1v22h-1zM374 533h1v23h-1zM378 534h1v22h-1zM382 534h1v22h-1zM386 535h1v21h-1zM390 536h1v20h-1zM394 537h1v19h-1zM398 538h1v18h-1zM402 537h1v19h-1zM406 537h1v19h-1zM410 538h1v18h-1zM414 542h1v14h-1zM418 547h1v9h-1zM422 551h1v5h-1zM426 555h1v1h-1zM430 556h1v2h-1zM434 556h1v4h-1zM438 556h1v6h-1zM442 556h1v7h-1zM446 556h1v8h-1zM450 556h1v10h-1zM454 556h1v11h-1zM458 556h1v12h-1zM462 556h1v15h-1zM466 556h1v19h-1zM470 556h1v23h-1zM474 556h1v27h-1zM478 556h1v30h-1zM482 556h1v30h-1zM486 556h1v30h-1zM490 556h1v29h-1zM494 556h1v28h-1zM498 556h1v27h-1zM502 556h1v27h-1zM506 556h1v28h-1zM510 556h1v27h-1zM514 556h1v27h-1zM518 556h1v26h-1zM522 556h1v25h-1zM526 556h1v25h-1zM530 556h1v24h-1zM534 556h1v24h-1zM538 556h1v25h-1zM542 556h1v24h-1zM546 556h1v24h-1zM550 556h1v24h-1zM554 556h1v24h-1zM558 556h1v24h-1zM562 556h1v23h-1zM566 556h1v21h-1zM570 556h1v17h-1zM574 556h1v11h-1zM578 556h1v3h-1zM582 554h1v2h-1zM586 549h1v7h-1zM590 547h1v9h-1zM594 547h1v9h-1zM598 547h1v9h-1zM602 549h1v7h-1zM606 550h1v6h-1zM610 551h1v5h-1zM614 551h1v5h-1zM618 552h1v4h-1zM622 554h1v2h-1zM626 556h1v1h-1zM630 556h1v1h-1zM634 556h1v1h-1zM638 556h1v1h-1zM642 556h1v1h-1zM646 556h1v2h-1zM650 556h1v2h-1zM654 556h1v3h-1zM658 556h1v6h-1zM662 556h1v9h-1zM666 556h1v11h-1zM670 556h1v12h-1zM674 556h1v13h-1zM678 556h1v10h-1zM682 556h1v9h-1zM686 556h1v7h-1zM690 556h1v6h-1zM694 556h1v5h-1zM698 556h1v4h-1zM702 556h1v2h-1zM706 556h1v1h-1zM710 554h1v2h-1zM714 552h1v4h-1zM718 550h1v6h-1zM722 548h1v8h-1zM726 545h1v11h-1zM730 542h1v14h-1zM734 541h1v15h-1zM738 542h1v14h-1zM742 542h1v14h-1zM746 544h1v12h-1zM750 544h1v12h-1zM754 545h1v11h-1zM758 546h1v10h-1zM762 546h1v10h-1zM766 546h1v10h-1zM770 547h1v9h-1zM774 548h1v8h-1zM778 549h1v7h-1zM782 550h1v6h-1zM786 550h1v6h-1zM790 551h1v5h-1zM794 552h1v4h-1zM798 554h1v2h-1zM802 556h1v1h-1zM806 556h1v2h-1zM810 556h1v2h-1zM814 556h1v3h-1zM818 556h1v4h-1zM822 556h1v5h-1zM826 556h1v4h-1zM830 556h1v4h-1zM834 556h1v3h-1zM838 556h1v2h-1zM842 556h1v2h-1zM846 556h1v2h-1zM850 556h1v1h-1zM854 555h1v1h-1zM858 555h1v1h-1zM862 556h1v1h-1zM866 556h1v1h-1zM870 555h1v1h-1zM874 554h1v2h-1zM878 554h1v2h-1zM882 553h1v3h-1zM886 551h1v5h-1zM890 551h1v5h-1zM894 550h1v6h-1zM898 549h1v7h-1zM902 548h1v8h-1zM906 547h1v9h-1zM910 549h1v7h-1zM914 551h1v5h-1zM918 552h1v4h-1zM922 554h1v2h-1zM926 556h1v1h-1zM930 556h1v1h-1zM934 556h1v1h-1zM938 556h1v1h-1zM942 556h1v2h-1zM946 556h1v4h-1zM950 556h1v3h-1zM954 556h1v3h-1zM958 556h1v4h-1zM962 556h1v7h-1zM966 556h1v9h-1zM970 556h1v11h-1zM974 556h1v11h-1zM978 556h1v12h-1zM982 556h1v13h-1zM986 556h1v14h-1zM990 556h1v13h-1zM994 556h1v14h-1zM998 556h1v13h-1zM1002 556h1v13h-1zM1006 556h1v12h-1zM1010 556h1v10h-1zM1014 556h1v9h-1zM1018 556h1v8h-1zM1022 556h1v7h-1zM1026 556h1v6h-1zM1030 556h1v6h-1zM1034 556h1v6h-1zM1038 556h1v6h-1zM1042 556h1v6h-1zM1046 556h1v6h-1zM1050 556h1v5h-1zM1054 556h1v3h-1zM1058 552h1v4h-1zM1062 549h1v7h-1zM1066 548h1v8h-1zM1070 546h1v10h-1zM1074 546h1v10h-1zM1078 545h1v11h-1zM1082 544h1v12h-1zM1086 544h1v12h-1zM1090 544h1v12h-1zM1094 545h1v11h-1zM1098 546h1v10h-1zM1102 548h1v8h-1zM1106 550h1v6h-1zM1110 553h1v3h-1zM1114 555h1v1h-1zM1118 556h1v1h-1zM1122 556h1v1h-1zM1126 556h1v1h-1zM1130 556h1v4h-1zM1134 556h1v6h-1zM1138 556h1v7h-1zM1142 556h1v8h-1zM1146 556h1v8h-1zM1150 556h1v8h-1zM1154 556h1v8h-1zM1158 556h1v8h-1zM1162 556h1v7h-1zM1166 556h1v7h-1zM1170 556h1v7h-1zM1174 556h1v6h-1zM1178 556h1v5h-1zM1182 556h1v4h-1zM1186 556h1v2h-1zM1190 555h1v1h-1zM1194 554h1v2h-1zM1198 555h1v1h-1zM1202 556h1v1h-1zM1206 556h1v1h-1zM1210 556h1v1h-1zM1214 556h1v1h-1zM1218 556h1v2h-1zM1222 556h1v2h-1zM1226 556h1v2h-1zM1230 556h1v3h-1zM1234 556h1v5h-1zM1238 556h1v6h-1zM1242 556h1v7h-1zM1246 556h1v7h-1zM1250 556h1v8h-1zM1254 556h1v9h-1zM1258 556h1v11h-1zM1262 556h1v12h-1zM1266 556h1v13h-1zM1270 556h1v14h-1zM1274 556h1v15h-1zM1278 556h1v16h-1zM1282 556h1v17h-1zM1286 556h1v19h-1zM1290 556h1v20h-1zM1294 556h1v20h-1zM1298 556h1v20h-1zM1302 556h1v20h-1zM1306 556h1v19h-1z"/>
<polyline fill="none" stroke="#ff0000" stroke-width="1" points="10.5,559.3 17.9,558.1 26.2,556.8 34.5,555.5 42.8,552.7 51.1,548.5 59.3,546.0 66.0,544.4 77.5,543.6 87.5,544.4 95.8,546.0 104.0,549.4 114.0,553.2 123.9,556.8 133.8,558.5 145.4,559.3 157.0,559.3 167.0,560.1 176.9,560.9 185.2,562.6 193.5,564.8 203.4,566.4 213.3,567.6 223.3,568.4 233.2,569.6 243.1,569.7 253.1,569.2 263.0,568.1 269.6,566.4 279.6,565.1 287.8,564.4 297.9,563.0 310.4,559.3 322.8,553.1 335.2,548.9 347.6,543.9 360.0,539.9 372.5,535.7 382.4,534.5 394.8,534.5 407.2,535.2 419.6,538.2 432.1,544.4 442.0,551.8 451.9,558.0 461.9,564.3 471.8,569.2 481.7,575.4 491.7,580.4 501.6,582.9 511.5,583.6 524.0,582.1 536.4,581.1 548.8,579.7 561.2,578.7 573.6,576.7 583.6,571.2 593.5,561.8 603.4,553.1 613.4,548.9 620.8,548.1 630.8,550.6 643.2,552.3 655.6,555.6 668.0,559.8 678.0,563.8 690.4,565.5 700.3,564.3 708.0,560.5 717.9,557.3 727.9,553.1 737.8,548.1 747.7,543.9 757.7,542.4 770.1,542.4 780.0,544.9 790.0,546.9 802.4,549.4 812.3,552.3 822.3,556.3 832.2,558.8 842.1,558.8 852.1,558.0 862.0,556.3 874.4,554.8 886.8,553.1 896.8,551.3 906.7,548.9 916.6,548.1 924.1,548.9 934.0,551.3 944.0,553.8 953.9,557.3 963.8,559.3 973.8,562.3 983.7,565.5 993.6,567.2 1006.1,568.5 1018.5,568.0 1028.4,566.2 1038.4,564.8 1050.8,562.3 1060.7,558.8 1070.6,554.8 1080.6,550.6 1090.5,546.4 1100.4,544.9 1110.4,544.9 1120.3,548.1 1128.0,551.3 1135.5,554.8 1142.9,558.0 1152.8,561.3 1165.3,563.0 1177.7,563.0 1187.6,561.3 1197.5,558.0 1207.5,556.3 1219.9,555.6 1229.8,556.3 1239.8,558.8 1249.7,561.3 1259.6,563.8 1269.6,566.2 1279.5,568.7 1289.5,571.2 1299.4,573.0 1305.6,573.7" stroke-dasharray="3 3"/>
</g>
<!-- RSI -->
<g clip-path="url(#c3)">
<path d="M10 631.5H1639M10 681.5H1639" stroke="#c0c0c0" stroke-dasharray="3 3" fill="none"/>
<polyline fill="none" stroke="#1e90ff" stroke-width="1" points="10.0,653.9 15.0,658.3 18.1,657.3 22.1,647.6 26.5,653.3 30.1,647.8 34.1,640.2 37.2,638.2 43.2,638.2 46.2,637.2 54.2,640.6 62.3,641.6 66.3,647.6 70.3,647.6 74.3,645.2 78.4,650.7 82.4,658.3 90.4,657.3 94.4,671.4 98.5,659.7 102.5,662.3 106.5,662.3 110.5,670.4 117.6,671.4 122.6,662.3 130.6,662.3 134.7,646.2 138.7,647.8 146.7,662.3 150.7,663.9 154.8,670.4 158.8,666.3 162.8,667.4 166.8,674.0 170.4,676.4 174.5,659.3 178.5,670.8 182.5,669.4 186.5,663.9 190.5,671.4 195.0,668.4 201.0,669.8 207.0,672.4 210.7,665.3 217.1,670.0 223.1,670.8 227.1,673.4 230.8,670.8 234.8,673.4 238.8,671.4 242.8,673.4 246.2,670.8 250.9,661.3 256.3,660.7 262.3,658.3 265.3,659.3 270.4,668.4 275.0,671.4 278.4,669.4 282.4,670.4 286.4,664.3 291.1,668.4 295.5,652.3 299.5,640.2 302.5,636.2 306.6,635.2 310.2,630.6 314.2,638.6 318.2,636.2 323.6,638.6 328.7,637.8 334.7,637.2 338.7,625.1 346.4,618.5 350.1,631.2 354.1,636.2 358.1,636.2 362.1,634.2 366.1,629.2 371.2,626.1 375.2,629.2 379.2,634.2 383.2,637.8 390.3,639.2 398.3,634.6 402.7,629.6 406.3,632.2 410.4,631.6 412.4,650.3 414.4,666.3 418.4,669.4 422.4,669.4 426.4,676.0 430.5,671.4 434.5,670.4 441.5,673.4 446.6,671.4 450.6,674.4 454.6,672.0 458.6,671.4 461.6,685.4 465.7,690.5 470.7,693.5 474.7,696.5 478.7,688.5 482.7,680.4 486.8,676.4 494.8,676.4 498.8,681.4 502.8,681.4 506.5,684.4 510.5,673.8 514.5,678.4 518.9,680.4 522.5,679.4 526.6,671.4 531.0,675.4 535.0,675.4 538.6,672.4 542.7,678.4 549.1,679.4 554.7,684.0 558.1,681.4 562.2,680.4 564.2,666.3 566.2,656.7 570.2,659.3 573.8,638.2 578.2,633.2 582.3,631.8 586.3,634.2 590.3,643.2 594.3,648.9 598.3,651.9 602.4,657.3 606.4,653.3 610.4,645.8 614.4,655.9 618.4,657.3 622.5,662.3 626.5,662.3 630.5,661.3 635.1,652.3 638.6,653.9 642.6,659.9 650.6,660.3 654.6,670.4 658.7,669.4 662.7,674.4 666.7,674.4 670.7,671.4 678.4,659.3 682.5,664.3 686.5,655.3 690.5,655.3 694.5,652.7 698.5,655.3 702.6,643.2 706.6,642.2 710.2,648.9 714.6,653.3 718.6,642.2 722.7,641.2 726.7,635.2 730.7,633.2 734.3,639.8 738.3,647.2 742.4,648.3 746.4,644.6 750.4,652.3 754.4,655.3 758.4,650.3 762.5,649.3 766.5,649.3 770.5,645.8 774.5,654.7 778.6,657.3 782.6,653.3 786.6,649.3 790.6,653.9 794.6,658.3 798.7,663.3 802.7,666.3 806.7,665.3 810.7,667.4 814.7,663.3 818.8,660.3 822.8,660.3 826.8,657.7 830.8,661.3 834.8,653.3 838.5,645.8 842.5,648.3 846.5,653.3 850.5,651.7 854.5,657.3 858.6,658.7 862.6,652.7 866.6,652.3 870.6,649.3 874.7,647.2 878.7,653.3 882.1,641.2 886.1,639.2 890.7,648.3 894.8,643.2 898.8,645.2 902.8,645.2 906.2,641.6 910.2,657.3 914.3,661.3 922.3,661.3 926.3,664.3 930.9,660.3 938.4,660.3 942.4,666.3 946.4,669.4 950.4,660.3 954.5,661.3 958.5,671.4 962.5,674.4 966.5,680.8 970.6,679.4 974.6,671.4 978.6,671.4 982.6,675.4 986.6,676.4 990.7,669.4 994.7,670.4 998.7,675.4 1002.7,674.4 1006.4,671.4 1010.0,656.7 1014.1,656.3 1018.1,657.7 1022.1,656.3 1026.1,654.3 1030.1,662.3 1034.6,668.4 1038.6,663.9 1042.6,661.3 1046.6,662.3 1050.2,657.3 1052.3,644.2 1054.3,629.8 1058.3,629.6 1062.3,633.2 1066.7,637.2 1070.3,638.2 1074.4,637.2 1078.4,641.2 1082.4,637.2 1086.4,641.2 1090.4,638.6 1094.5,646.2 1098.5,646.6 1102.1,659.3 1106.5,662.7 1110.6,666.3 1114.6,665.3 1118.6,664.3 1123.6,664.3 1128.6,666.3 1131.7,670.4 1134.7,676.4 1138.7,676.4 1142.7,675.4 1146.7,676.4 1150.8,672.4 1154.8,672.4 1158.8,675.4 1162.8,665.3 1166.4,661.3 1170.5,664.3 1174.5,664.3 1178.5,660.3 1182.5,638.2 1186.5,635.6 1190.6,639.8 1194.6,642.2 1198.6,656.3 1202.6,656.3 1206.7,658.3 1210.7,664.3 1214.7,670.4 1218.7,664.7 1222.7,662.3 1226.8,662.3 1230.8,667.4 1234.8,675.4 1238.8,678.4 1242.8,673.4 1246.9,674.0 1250.9,672.4 1254.9,675.4 1258.9,682.4 1262.9,685.4 1267.0,687.5 1271.0,680.4 1274.4,680.8 1278.4,689.1 1282.4,689.5 1286.5,691.5 1290.5,683.4 1294.5,682.0 1298.5,682.0 1302.6,684.0 1305.6,679.4" />
</g>
<!-- price axis ticks -->
<path fill="#000" d="M1640 66h3v1h-3zM1640 115h3v1h-3zM1640 164h3v1h-3zM1640 213h3v1h-3zM1640 262h3v1h-3zM1640 311h3v1h-3zM1640 360h3v1h-3zM1640 409h3v1h-3zM1640 507h3v1h-3zM1640 530h1v1h-1zM1640 588h1v1h-1zM1640 593h1v1h-1zM1640 718h1v1h-1z"/>
<!-- date ticks -->
<path fill="#000" d="M10 721h1v3h-1zM106 721h1v3h-1zM202 721h1v3h-1zM298 721h1v3h-1zM394 721h1v3h-1zM490 721h1v3h-1zM586 721h1v3h-1zM682 721h1v3h-1zM778 721h1v3h-1zM874 721h1v3h-1zM970 721h1v3h-1zM1066 721h1v3h-1zM1162 721h1v3h-1zM1258 721h1v3h-1z"/>
<!-- label boxes -->
<rect x="1641" y="143" width="49" height="14" fill="#ff0000"/>
<rect x="1641" y="322" width="49" height="14" fill="#ff0000"/>
<rect x="1641" y="386" width="49" height="14" fill="#ff0000"/>
<rect x="1641" y="452" width="49" height="14" fill="#00ff7f"/>
<rect x="1641" y="474" width="49" height="13" fill="#000"/>
</g>
<!-- axis text -->
<g class="t">
<text x="1645.3" y="70.7" textLength="39.6">3447.5</text>
<text x="1645.3" y="119.7" textLength="39.6">3399.0</text>
<text x="1645.3" y="168.7" textLength="39.6">3350.0</text>
<text x="1645.3" y="217.7" textLength="39.6">3301.5</text>
<text x="1645.3" y="266.7" textLength="39.6">3252.5</text>
<text x="1645.3" y="315.7" textLength="39.6">3204.0</text>
<text x="1645.3" y="364.7" textLength="39.6">3155.0</text>
<text x="1645.3" y="413.7" textLength="39.6">3106.5</text>
<text x="1645.3" y="511.7" textLength="39.6">3009.0</text>
<text x="1643" y="541.7">51</text>
<text x="1643" y="561.2">0.00</text>
<text x="1643" y="586" textLength="36">-63.44</text>
<text x="1643" y="604.7">100</text>
<text x="1643" y="636">70</text>
<text x="1643" y="686">30</text>
<text x="1643" y="717.5">0</text>
<text x="9" y="736" textLength="72.8">23 Aug 2018</text>
<text x="105" y="736" textLength="76.0">31 Aug 06:00</text>
<text x="201" y="736" textLength="76.0">10 Sep 06:00</text>
<text x="297" y="736" textLength="76.0">18 Sep 06:00</text>
<text x="393" y="736" textLength="76.0">27 Sep 06:00</text>
<text x="489" y="736" textLength="76.0">12 Oct 06:00</text>
<text x="585" y="736" textLength="76.0">22 Oct 06:00</text>
<text x="681" y="736" textLength="76.0">30 Oct 06:00</text>
<text x="777" y="736" textLength="68.8">7 Nov 06:00</text>
<text x="873" y="736" textLength="76.0">15 Nov 06:00</text>
<text x="969" y="736" textLength="76.0">23 Nov 06:00</text>
<text x="1065" y="736" textLength="68.8">3 Dec 06:00</text>
<text x="1161" y="736" textLength="76.0">11 Dec 06:00</text>
<text x="1257" y="736" textLength="76.0">19 Dec 06:00</text>
<text x="27.6" y="46.2" textLength="78.6">CHINA300-,H1</text><text x="114.3" y="46.2" textLength="169">3025.0 3043.4 3024.6 3035.8</text>
<text x="13.6" y="544" textLength="166.2">MACD(12,26,9) -36.27 -36.18</text>
<text x="13.6" y="607.2" textLength="93.2">RSI(14) 32.6899</text>
</g>
<rect x="1641" y="509" width="49" height="14" fill="#0000ff" shape-rendering="crispEdges"/>
<g class="w">
<text x="1645.3" y="154.7" textLength="39.6">3365.0</text>
<text x="1645.3" y="333.7" textLength="39.6">3187.5</text>
<text x="1645.3" y="397.7" textLength="39.6">3123.5</text>
<text x="1645.3" y="463.7" textLength="39.6">3058.6</text>
<text x="1645.3" y="485.2" textLength="39.6">3035.8</text>
<text x="1645.3" y="520.7" textLength="39.6">3001.6</text>
</g>
<path d="M13 44.5h9.500l-4.750-5.500z" fill="#000"/>
<text x="1332" y="580" font-size="33" fill="#ff1010" textLength="241" lengthAdjust="spacingAndGlyphs" style='font-family:"Liberation Sans","Noto Sans CJK SC",sans-serif;'>多空转折点3058</text>
<!-- trade panel -->
<g id="panel">
<rect x="81" y="54" width="147" height="27" fill="#fff"/>
<path d="M13 54h68v27h73v49h-141z" fill="url(#rg)"/>
<path d="M296 54h-68v27h-72v49h140z" fill="url(#rg)"/>
<path d="M13.5 129.5v-75h67" fill="none" stroke="#c21a1a" stroke-opacity=".8"/>
<path d="M228.5 81v-26.500h67v75" fill="none" stroke="#c21a1a" stroke-opacity=".6"/>
<rect x="17" y="80" width="60" height="1" fill="#8e0b0b" shape-rendering="crispEdges"/>
<rect x="17" y="81" width="60" height="1" fill="#f06a6a" shape-rendering="crispEdges"/>
<rect x="232" y="80" width="60" height="1" fill="#8e0b0b" shape-rendering="crispEdges"/>
<rect x="232" y="81" width="60" height="1" fill="#f06a6a" shape-rendering="crispEdges"/>
<!-- spinner -->
<rect x="83.500" y="54.500" width="142" height="24" rx="2" fill="#fff" stroke="#a3a8b8"/>
<rect x="84.500" y="55.500" width="21.500" height="22" fill="url(#bg)" stroke="#b4b8c4"/>
<rect x="202.500" y="55.500" width="22.500" height="22" fill="url(#bg)" stroke="#b4b8c4"/>
<path d="M91.500 65h8l-4 4.500z" fill="#4461c6"/>
<path d="M209.500 69h8l-4 -4.500z" fill="#4461c6"/>
<text x="197.500" y="71.500" text-anchor="end" font-size="15" fill="#000">1.00</text>
<text x="46.800" y="73" text-anchor="middle" font-size="15" fill="#fff" textLength="33.6" lengthAdjust="spacingAndGlyphs">SELL</text>
<text x="261" y="73" text-anchor="middle" font-size="15" fill="#fff" textLength="28" lengthAdjust="spacingAndGlyphs">BUY</text>
<text x="43.500" y="118.600" font-size="14" font-weight="bold" fill="#fff" textLength="35.500" lengthAdjust="spacingAndGlyphs">3034</text>
<text x="185.500" y="118.600" font-size="14" font-weight="bold" fill="#fff" textLength="35" lengthAdjust="spacingAndGlyphs">3039</text>
<rect x="84.600" y="113.400" width="5.400" height="5.400" rx="2.400" fill="#fff"/>
<rect x="227.400" y="113.400" width="5.400" height="5.400" rx="2.400" fill="#fff"/>
<text transform="translate(92.800 118.900) scale(.94 1)" font-size="41" fill="#fff">3</text>
<text transform="translate(234.800 118.900) scale(.94 1)" font-size="41" fill="#fff">9</text>
</g>
<!-- toolbar -->
<defs><pattern id="chk" width="2" height="2" patternUnits="userSpaceOnUse"><rect width="2" height="2" fill="#f0f0f0"/><rect width="1" height="1" fill="#fff"/><rect x="1" y="1" width="1" height="1" fill="#fff"/></pattern></defs>
<g id="toolbar">
<rect x="5.4" y="2.1" width="1.6" height="1.8" rx=".5" fill="#6a6a6a"/><rect x="7.9" y="2.1" width="1.6" height="1.8" rx=".5" fill="#8c8c8c"/><rect x="10.6" y="2.1" width="1.6" height="1.8" rx=".5" fill="#6a6a6a"/><rect x="13.0" y="2.1" width="1.6" height="1.8" rx=".5" fill="#8c8c8c"/><rect x="15.7" y="2.1" width="1.6" height="1.8" rx=".5" fill="#6a6a6a"/><rect x="18.1" y="2.1" width="1.6" height="1.8" rx=".5" fill="#8c8c8c"/><rect x="20.8" y="2.1" width="1.6" height="1.8" rx=".5" fill="#6a6a6a"/><rect x="5.4" y="6.0" width="1.6" height="1.8" rx=".5" fill="#6a6a6a"/><rect x="7.9" y="6.0" width="1.6" height="1.8" rx=".5" fill="#8c8c8c"/><rect x="10.6" y="6.0" width="1.6" height="1.8" rx=".5" fill="#6a6a6a"/><rect x="13.0" y="6.0" width="1.6" height="1.8" rx=".5" fill="#8c8c8c"/><rect x="15.7" y="6.0" width="1.6" height="1.8" rx=".5" fill="#6a6a6a"/><rect x="18.1" y="6.0" width="1.6" height="1.8" rx=".5" fill="#8c8c8c"/><rect x="20.8" y="6.0" width="1.6" height="1.8" rx=".5" fill="#6a6a6a"/><rect x="5.4" y="11.0" width="1.6" height="1.8" rx=".5" fill="#6a6a6a"/><rect x="7.9" y="11.0" width="1.6" height="1.8" rx=".5" fill="#8c8c8c"/><rect x="10.6" y="11.0" width="1.6" height="1.8" rx=".5" fill="#6a6a6a"/><rect x="13.0" y="11.0" width="1.6" height="1.8" rx=".5" fill="#8c8c8c"/><rect x="15.7" y="11.0" width="1.6" height="1.8" rx=".5" fill="#6a6a6a"/><rect x="18.1" y="11.0" width="1.6" height="1.8" rx=".5" fill="#8c8c8c"/><rect x="20.8" y="11.0" width="1.6" height="1.8" rx=".5" fill="#6a6a6a"/><rect x="5.4" y="16.1" width="1.6" height="1.8" rx=".5" fill="#6a6a6a"/><rect x="7.9" y="16.1" width="1.6" height="1.8" rx=".5" fill="#8c8c8c"/><rect x="10.6" y="16.1" width="1.6" height="1.8" rx=".5" fill="#6a6a6a"/><rect x="13.0" y="16.1" width="1.6" height="1.8" rx=".5" fill="#8c8c8c"/><rect x="15.7" y="16.1" width="1.6" height="1.8" rx=".5" fill="#6a6a6a"/>
<text x="17.7" y="22.7" font-size="9.2" font-weight="bold" fill="#5c5c5c">F</text>
<text x="43" y="17.7" font-size="16.2" fill="#5f5f5f" stroke="#5f5f5f" stroke-width=".45" textLength="9.8" lengthAdjust="spacingAndGlyphs">A</text>
<rect x="75.0" y="3.8" width="1.2" height="1.2" fill="#5a5a5a"/><rect x="75.0" y="18.9" width="1.2" height="1.2" fill="#5a5a5a"/><rect x="77.3" y="3.8" width="1.2" height="1.2" fill="#5a5a5a"/><rect x="77.3" y="18.9" width="1.2" height="1.2" fill="#5a5a5a"/><rect x="79.7" y="3.8" width="1.2" height="1.2" fill="#5a5a5a"/><rect x="79.7" y="18.9" width="1.2" height="1.2" fill="#5a5a5a"/><rect x="82.0" y="3.8" width="1.2" height="1.2" fill="#5a5a5a"/><rect x="82.0" y="18.9" width="1.2" height="1.2" fill="#5a5a5a"/><rect x="84.3" y="3.8" width="1.2" height="1.2" fill="#5a5a5a"/><rect x="84.3" y="18.9" width="1.2" height="1.2" fill="#5a5a5a"/><rect x="86.7" y="3.8" width="1.2" height="1.2" fill="#5a5a5a"/><rect x="86.7" y="18.9" width="1.2" height="1.2" fill="#5a5a5a"/><rect x="89.0" y="3.8" width="1.2" height="1.2" fill="#5a5a5a"/><rect x="89.0" y="18.9" width="1.2" height="1.2" fill="#5a5a5a"/><rect x="75.0" y="6.3" width="1.2" height="1.2" fill="#5a5a5a"/><rect x="89.0" y="6.3" width="1.2" height="1.2" fill="#5a5a5a"/><rect x="75.0" y="8.8" width="1.2" height="1.2" fill="#5a5a5a"/><rect x="89.0" y="8.8" width="1.2" height="1.2" fill="#5a5a5a"/><rect x="75.0" y="11.3" width="1.2" height="1.2" fill="#5a5a5a"/><rect x="89.0" y="11.3" width="1.2" height="1.2" fill="#5a5a5a"/><rect x="75.0" y="13.9" width="1.2" height="1.2" fill="#5a5a5a"/><rect x="89.0" y="13.9" width="1.2" height="1.2" fill="#5a5a5a"/><rect x="75.0" y="16.4" width="1.2" height="1.2" fill="#5a5a5a"/><rect x="89.0" y="16.4" width="1.2" height="1.2" fill="#5a5a5a"/>
<text x="73.2" y="4.800" font-size="3.600" font-weight="bold" fill="#5a5a5a">A</text>
<path d="M77.3 7.1h10.3v1.8h-3.800v8.400h-2.600v-8.400h-3.900z" fill="#717171"/>
<path d="M112 3.600l4.600 4.900h-2.100v1.500h-5v-1.500h-2.100z" fill="#5e5e5e"/>
<path d="M121 19.900l-4.600 -4.700h2.100v-1.400h5v1.400h2.100z" fill="#5e5e5e"/>
<path d="M110.300 12.800l3.100 3 5.400 -7.200" fill="none" stroke="#5e5e5e" stroke-width="1.500"/>
<path d="M130.600 9.900h7.800l-3.900 4.400z" fill="#000"/>
<g shape-rendering="crispEdges">
<rect x="146" y="0" width="1" height="27" fill="#a0a0a0"/><rect x="147" y="0" width="1" height="27" fill="#fff"/>
<rect x="150" y="0" width="3" height="1" fill="#a8a8a8"/><rect x="150" y="2" width="3" height="1" fill="#a8a8a8"/><rect x="150" y="4" width="3" height="1" fill="#a8a8a8"/><rect x="150" y="6" width="3" height="1" fill="#a8a8a8"/><rect x="150" y="8" width="3" height="1" fill="#a8a8a8"/><rect x="150" y="10" width="3" height="1" fill="#a8a8a8"/><rect x="150" y="12" width="3" height="1" fill="#a8a8a8"/><rect x="150" y="14" width="3" height="1" fill="#a8a8a8"/><rect x="150" y="16" width="3" height="1" fill="#a8a8a8"/><rect x="150" y="18" width="3" height="1" fill="#a8a8a8"/><rect x="150" y="20" width="3" height="1" fill="#a8a8a8"/><rect x="150" y="22" width="3" height="1" fill="#a8a8a8"/><rect x="150" y="24" width="3" height="1" fill="#a8a8a8"/>
<rect x="292" y="0" width="1" height="25" fill="#a0a0a0"/>
<rect x="293" y="0" width="30" height="25" fill="url(#chk)"/>
<rect x="323" y="0" width="1" height="26" fill="#fff"/><rect x="292" y="25" width="32" height="1" fill="#fff"/>
<rect x="461" y="0" width="1" height="27" fill="#a0a0a0"/><rect x="462" y="0" width="1" height="27" fill="#fff"/>
</g>
<g class="tb">
<text x="163" y="16.100">M1</text>
<text x="197.300" y="16.100">M5</text>
<text x="228.600" y="16.100">M15</text>
<text x="262.700" y="16.100">M30</text>
<text x="300.700" y="16.100">H1</text>
<text x="333.200" y="16.100">H4</text>
<text x="368.700" y="16.100">D1</text>
<text x="401.300" y="16.100" textLength="18.8">W1</text>
<text x="433.300" y="16.100" textLength="19.6">MN</text>
</g>
</g>
</svg>
</body></html>
